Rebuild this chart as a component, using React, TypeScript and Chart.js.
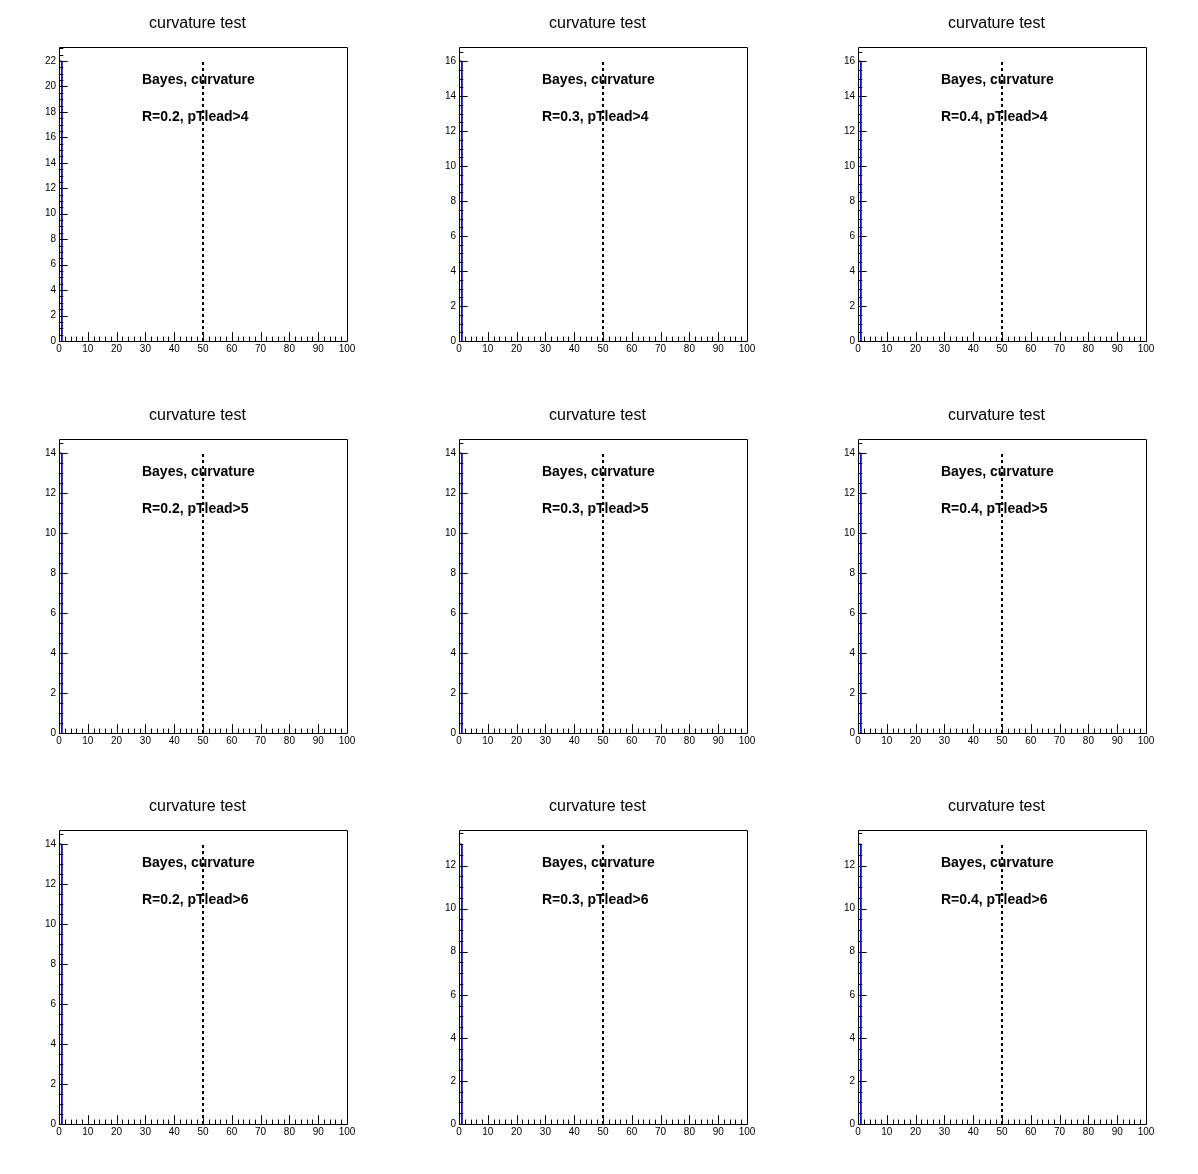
import React, { useEffect, useRef } from "react";
import { Chart, registerables } from "chart.js";

Chart.register(...registerables);

// ---- data ----
const TITLE = "curvature test";
const METHOD_LABEL = "Bayes, curvature";
const radii = ["0.2", "0.3", "0.4"];
const ptLeadCuts = [4, 5, 6];
const binLowEdges = [0];
const binHighEdges = [1];
const countsPtLead4 = [22, 16, 16];
const countsPtLead5 = [14, 14, 14];
const countsPtLead6 = [14, 13, 13];
const countsByRow = [countsPtLead4, countsPtLead5, countsPtLead6];
const markerX = 50;
const xMin = 0;
const xMax = 100;
const xMajorStep = 10;
const xMinorStep = 2;
const yMajorStep = 2;
const yMinorStep = 0.5;
const yHeadroom = 1.05;
const labelX = 28.8;

// ---- layout ----
const colLefts = [0, 400, 799];
const rowTops = [0, 392, 783];
const PAD_W = 399;
const PAD_H = 391;
const FONT = "'Liberation Sans', Arial, Helvetica, sans-serif";

const rootFramePlugin = {
  id: "rootFrame",
  afterDraw(chart: any, _args: any, opts: any) {
    const { ctx, chartArea: a, scales } = chart;
    const xs = scales.x;
    const ys = scales.y;
    const w = a.right - a.left;
    const h = a.bottom - a.top;
    ctx.save();
    ctx.strokeStyle = "#000";
    ctx.lineWidth = 1;
    ctx.beginPath();
    ctx.rect(Math.round(a.left) + 0.5, Math.round(a.top) + 0.5, Math.round(w), Math.round(h));
    ctx.stroke();

    ctx.beginPath();
    const xMaj = 0.03 * h;
    const nx = Math.round((xs.max - xs.min) / xMinorStep);
    for (let i = 0; i <= nx; i++) {
      const v = xs.min + i * xMinorStep;
      const px = Math.round(xs.getPixelForValue(v)) + 0.5;
      const r = v / xMajorStep;
      const major = Math.abs(r - Math.round(r)) < 1e-6;
      const len = major ? xMaj : xMaj / 2;
      ctx.moveTo(px, a.bottom);
      ctx.lineTo(px, a.bottom - len);
    }
    const yMaj = 0.03 * w;
    const ny = Math.floor((ys.max - ys.min) / yMinorStep + 1e-6);
    for (let i = 0; i <= ny; i++) {
      const v = ys.min + i * yMinorStep;
      const py = Math.round(ys.getPixelForValue(v)) + 0.5;
      const r = v / yMajorStep;
      const major = Math.abs(r - Math.round(r)) < 1e-6;
      const len = major ? yMaj : yMaj / 2;
      ctx.moveTo(a.left, py);
      ctx.lineTo(a.left + len, py);
    }
    ctx.stroke();

    ctx.fillStyle = "#000";
    ctx.textBaseline = "middle";
    ctx.textAlign = "center";
    ctx.font = `16px ${FONT}`;
    ctx.fillText(opts.title, chart.width / 2 - 2, 24);
    ctx.textAlign = "left";
    ctx.font = `bold 14px ${FONT}`;
    const tx = xs.getPixelForValue(labelX);
    ctx.fillText(opts.line1, tx, a.top + 33);
    ctx.fillText(opts.line2, tx, a.top + 70);
    ctx.restore();
  },
};

function Panel({ row, col }: { row: number; col: number }) {
  const ref = useRef<HTMLCanvasElement | null>(null);
  useEffect(() => {
    if (!ref.current) return;
    const count = countsByRow[row][col];
    const histPoints: { x: number; y: number }[] = [];
    for (let i = 0; i < binLowEdges.length; i++) {
      histPoints.push({ x: binLowEdges[i], y: 0 });
      histPoints.push({ x: binLowEdges[i], y: count });
      histPoints.push({ x: binHighEdges[i], y: count });
      histPoints.push({ x: binHighEdges[i], y: 0 });
    }
    const yMax = count * yHeadroom;
    const chart = new Chart(ref.current, {
      type: "line",
      data: {
        datasets: [
          {
            data: histPoints,
            borderColor: "#0000cc",
            borderWidth: 1,
            pointRadius: 0,
            fill: false,
            tension: 0,
          },
          {
            data: [
              { x: markerX, y: 0 },
              { x: markerX, y: count },
            ],
            borderColor: "#000",
            borderWidth: 2,
            borderDash: [3, 3],
            pointRadius: 0,
            fill: false,
            tension: 0,
          },
        ],
      },
      options: {
        animation: false,
        responsive: false,
        devicePixelRatio: 1,
        layout: { padding: { top: 47, right: PAD_W - 347, bottom: 0, left: 0 } },
        plugins: {
          legend: { display: false },
          tooltip: { enabled: false },
          title: { display: false },
          rootFrame: {
            title: TITLE,
            line1: METHOD_LABEL,
            line2: `R=${radii[col]}, pTlead>${ptLeadCuts[row]}`,
          },
        } as any,
        scales: {
          x: {
            type: "linear",
            min: xMin,
            max: xMax,
            border: { display: false },
            grid: { display: false, drawTicks: false },
            ticks: {
              stepSize: xMajorStep,
              autoSkip: false,
              maxRotation: 0,
              padding: 2,
              color: "#000",
              font: { family: FONT, size: 10 },
            },
            afterFit: (s: any) => {
              s.height = PAD_H - 341;
            },
          },
          y: {
            type: "linear",
            min: 0,
            max: yMax,
            border: { display: false },
            grid: { display: false, drawTicks: false },
            ticks: {
              stepSize: yMajorStep,
              includeBounds: false,
              autoSkip: false,
              padding: 3,
              color: "#000",
              font: { family: FONT, size: 10 },
            },
            afterFit: (s: any) => {
              s.width = 59;
            },
          },
        },
      },
      plugins: [rootFramePlugin],
    } as any);
    return () => chart.destroy();
  }, [row, col]);
  return (
    <canvas
      ref={ref}
      width={PAD_W}
      height={PAD_H}
      style={{
        position: "absolute",
        left: colLefts[col],
        top: rowTops[row],
        width: PAD_W,
        height: PAD_H,
      }}
    />
  );
}

export default function App() {
  const cells: React.ReactNode[] = [];
  for (let r = 0; r < 3; r++) {
    for (let c = 0; c < 3; c++) {
      cells.push(<Panel key={`${r}-${c}`} row={r} col={c} />);
    }
  }
  return (
    <div
      style={{
        position: "absolute",
        left: 0,
        top: 0,
        width: 1198,
        height: 1174,
        background: "#fff",
      }}
    >
      {cells}
    </div>
  );
}
